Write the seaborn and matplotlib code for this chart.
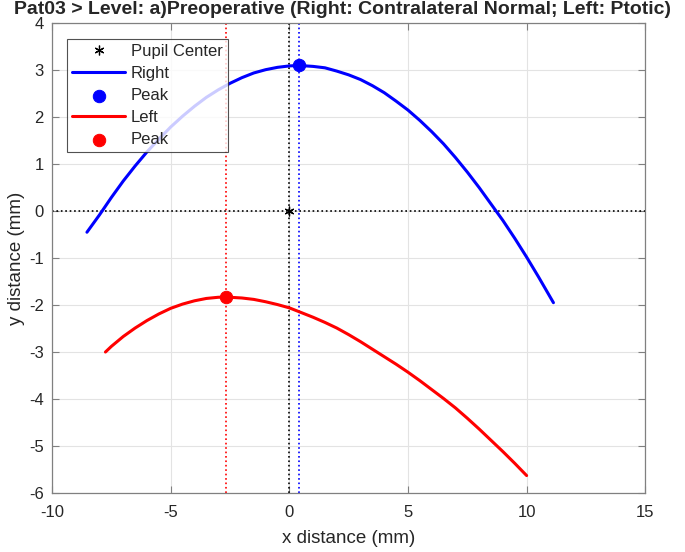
import matplotlib
matplotlib.use("Agg")
import matplotlib.pyplot as plt
import pandas as pd
import seaborn as sns

# curve points (mm)
right_x = [-8.53, -8.0, -7.5, -7.0, -6.5, -6.0, -5.5, -5.0, -4.5, -4.0, -3.5, -3.0,
           -2.5, -2.0, -1.5, -1.0, -0.5, 0.0, 0.4, 1.0, 1.5, 2.0, 2.5, 3.0, 3.5, 4.0,
           4.5, 5.0, 5.5, 6.0, 6.5, 7.0, 7.5, 8.0, 8.5, 9.0, 9.5, 10.0, 10.5, 11.13]
right_y = [-0.45, -0.08, 0.29, 0.64, 0.96, 1.26, 1.53, 1.79, 2.02, 2.23, 2.42, 2.58,
           2.72, 2.84, 2.94, 3.01, 3.06, 3.09, 3.10, 3.08, 3.05, 2.98, 2.90, 2.80, 2.67,
           2.52, 2.34, 2.15, 1.93, 1.69, 1.43, 1.14, 0.83, 0.50, 0.15, -0.20, -0.58,
           -0.98, -1.40, -1.95]
left_x = [-7.75, -7.5, -7.0, -6.5, -6.0, -5.5, -5.0, -4.5, -4.0, -3.5, -3.0, -2.67,
          -2.0, -1.5, -1.0, -0.5, 0.0, 0.5, 1.0, 1.5, 2.0, 2.5, 3.0, 3.5, 4.0, 4.5,
          5.0, 5.5, 6.0, 6.5, 7.0, 7.5, 8.0, 8.5, 9.0, 9.5, 10.0]
left_y = [-3.0, -2.88, -2.67, -2.49, -2.33, -2.19, -2.07, -1.98, -1.91, -1.86, -1.835,
          -1.83, -1.85, -1.88, -1.93, -1.99, -2.06, -2.16, -2.26, -2.37, -2.49, -2.63,
          -2.78, -2.94, -3.10, -3.26, -3.43, -3.61, -3.80, -3.99, -4.19, -4.41, -4.64,
          -4.88, -5.12, -5.37, -5.63]
right_peak = (0.4, 3.1)
left_peak = (-2.67, -1.83)
pupil_center = (0.0, 0.0)

title = "Pat03 > Level: a)Preoperative (Right: Contralateral Normal; Left: Ptotic)"

sns.set_style("white")
plt.rcParams['font.family'] = ['Liberation Sans', 'DejaVu Sans']
plt.rcParams['axes.unicode_minus'] = False

fig = plt.figure(figsize=(6.85, 5.52), dpi=100)
ax = fig.add_axes([0.076, 0.107, 0.866, 0.851])

# reference lines through the pupil center and the peaks
ax.axhline(pupil_center[1], color='black', ls=':', lw=1.2, zorder=1)
ax.axvline(pupil_center[0], color='black', ls=':', lw=1.2, zorder=1)
ax.axvline(right_peak[0], color='blue', ls=':', lw=1.2, zorder=1)
ax.axvline(left_peak[0], color='red', ls=':', lw=1.2, zorder=1)

ax.plot([pupil_center[0]], [pupil_center[1]], marker=(6, 2, 0), color='black',
        ms=7, mew=0.9, ls='none', label='Pupil Center', zorder=4)

right = pd.DataFrame({'x': right_x, 'y': right_y})
left = pd.DataFrame({'x': left_x, 'y': left_y})

sns.lineplot(data=right, x='x', y='y', color='blue', lw=2.2, sort=False,
             label='Right', ax=ax, zorder=3)
sns.scatterplot(x=[right_peak[0]], y=[right_peak[1]], color='blue', s=80,
                edgecolor='blue', label='Peak', ax=ax, zorder=5)
sns.lineplot(data=left, x='x', y='y', color='red', lw=2.2, sort=False,
             label='Left', ax=ax, zorder=3)
sns.scatterplot(x=[left_peak[0]], y=[left_peak[1]], color='red', s=80,
                edgecolor='red', label='Peak', ax=ax, zorder=5)

ax.set_xlim(-10, 15)
ax.set_ylim(-6, 4)
ax.set_xticks(range(-10, 16, 5))
ax.set_yticks(range(-6, 5))
ax.grid(True, color='#e3e3e3', lw=0.8)
ax.set_axisbelow(True)
for s in ax.spines.values():
    s.set_color('#808080')
    s.set_linewidth(0.9)
ax.tick_params(direction='in', length=5, color='#808080', labelsize=12,
               labelcolor='#262626', top=True, right=True,
               bottom=True, left=True)
ax.tick_params(axis='x', pad=9)
ax.tick_params(axis='y', pad=6)

ax.set_xlabel('x distance (mm)', fontsize=13.5, color='#262626', labelpad=7)
ax.set_ylabel('y distance (mm)', fontsize=13.5, color='#262626', labelpad=3)
fig.text(0.5, 1 - 0.5 / 552, title, fontsize=14, fontweight='bold',
         ha='center', va='top')

leg = ax.legend(loc='upper left', bbox_to_anchor=(0.025, 0.966), fontsize=12,
                frameon=True, fancybox=False, edgecolor='#262626',
                handlelength=3.2, handletextpad=0.35, labelspacing=0.42,
                borderpad=0.3, borderaxespad=0.0)
leg.get_frame().set_linewidth(0.8)

fig.savefig('out.png', dpi=100)
